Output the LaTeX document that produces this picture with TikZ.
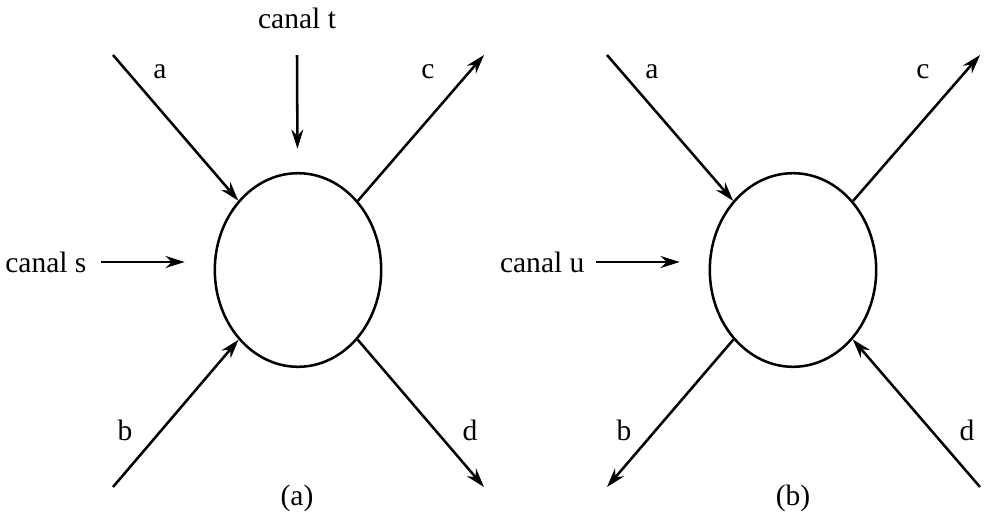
\documentclass[tikz,border=0pt]{standalone}
\usepackage{fontspec}
\setmainfont{Liberation Serif}
\usepackage{tikz}
\usetikzlibrary{arrows.meta,positioning,shapes.geometric}

\begin{document}
\begin{tikzpicture}[x=0.125mm, y=-0.125mm,
    vertex/.style={ellipse, draw, line width=0.9pt, minimum width=20.8mm, minimum height=24.2mm},
    leg/.style={line width=0.9pt, -{Stealth[length=2.4mm, width=1.5mm]}},
    lbl/.style={font=\fontsize{10.5}{12}\selectfont, inner sep=0pt}]
    \useasboundingbox (0,0) rectangle (988,523);

    % (a) vertex with s and t channels
    \node[vertex] (vertA) at (298,270) {};
    \coordinate (aA) at (113,55);
    \coordinate (bA) at (113,487);
    \coordinate (cA) at (484,55);
    \coordinate (dA) at (484,487);
    \coordinate (tA) at (297,55);
    \draw[leg] (aA) -- (vertA);
    \draw[leg] (bA) -- (vertA);
    \draw[leg] (vertA) -- (cA);
    \draw[leg] (vertA) -- (dA);
    \draw[leg, shorten >=2.9mm] (tA) -- (vertA);

    \node[lbl] (canT) at (297,18) {canal t};
    \node[lbl, anchor=east] (canS) at (87,262) {canal s};
    \draw[leg, shorten <=1.8mm, shorten >=3.6mm] (canS.east) -- (canS.east -| vertA.west);

    \node[lbl] (la) at (160,72) {a};
    \node[lbl] (lc) at (428,72) {c};
    \node[lbl] (lb) at (125,430) {b};
    \node[lbl] (ld) at (470,430) {d};
    \node[lbl] (capA) at (297,498) {(a)};

    % (b) vertex with u channel
    \node[vertex] (vertB) at (793,270) {};
    \coordinate (aB) at (607,55);
    \coordinate (bB) at (607,487);
    \coordinate (cB) at (980,55);
    \coordinate (dB) at (980,487);
    \draw[leg] (aB) -- (vertB);
    \draw[leg] (vertB) -- (bB);
    \draw[leg] (vertB) -- (cB);
    \draw[leg] (dB) -- (vertB);

    \node[lbl, anchor=east] (canU) at (585,262) {canal u};
    \draw[leg, shorten <=1.4mm, shorten >=3.6mm] (canU.east) -- (canU.east -| vertB.west);

    \node[lbl] (lbA) at (652,72) {a};
    \node[lbl] (lbC) at (923,72) {c};
    \node[lbl] (lbB) at (624,430) {b};
    \node[lbl] (lbD) at (967,430) {d};
    \node[lbl] (capB) at (793,498) {(b)};
\end{tikzpicture}
\end{document}
